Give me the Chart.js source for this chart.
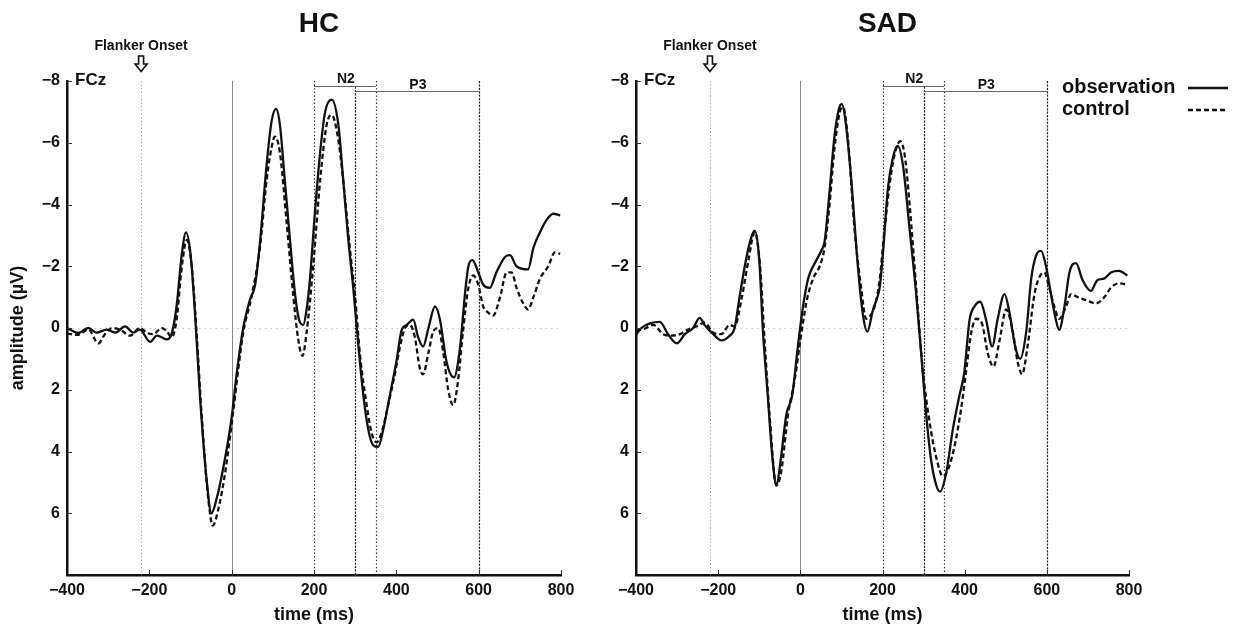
<!DOCTYPE html>
<html>
<head>
<meta charset="utf-8">
<script src="https://cdn.jsdelivr.net/npm/chart.js@4.4.1/dist/chart.umd.min.js"></script>
<style>
  body { margin: 0; background: #fff; }
  #wrap { position: relative; width: 1237px; height: 628px; overflow: hidden; }
  canvas { position: absolute; top: 0; }
</style>
</head>
<body>
<div id="wrap">
  <canvas id="hcChart" width="600" height="628" style="left:0;width:600px;height:628px"></canvas>
  <canvas id="sadChart" width="637" height="628" style="left:600px;width:637px;height:628px"></canvas>
</div>
<script>
// Axis ticks
const timeTicks = [-400, -200, 0, 200, 400, 600, 800];
const ampTicks = [-8, -6, -4, -2, 0, 2, 4, 6, 8];

// Event markers (ms)
const onsetTime = -220;
const n2Window = [200, 350];
const p3Window = [300, 600];

// HC - observation (solid)
const hcObsT = [-400, -373, -348, -328, -304, -283, -259, -239, -223, -198, -182, -170, -158, -146, -134, -121, -111, -100, -89, -77, -61, -49, -36, -20, 0, 12, 28, 44, 57, 69, 85, 97, 108, 117, 129, 142, 154, 164, 174, 182, 190, 202, 215, 227, 243, 259, 271, 283, 295, 308, 320, 332, 344, 356, 368, 384, 400, 413, 425, 441, 453, 465, 478, 494, 506, 522, 540, 555, 567, 575, 585, 599, 611, 627, 643, 664, 676, 692, 720, 733, 749, 765, 781, 798];
const hcObsV = [0.0, 0.16, 0.0, 0.15, 0.05, 0.15, -0.05, 0.15, 0.05, 0.45, 0.25, 0.3, 0.37, 0.2, -0.68, -2.4, -3.1, -2.4, -0.46, 2.2, 4.9, 6.0, 5.5, 4.5, 2.9, 1.5, 0.0, -0.9, -1.4, -2.8, -5.3, -6.7, -7.1, -6.6, -4.8, -2.8, -1.1, -0.25, -0.1, -0.6, -1.56, -3.7, -5.7, -7.0, -7.4, -6.6, -4.8, -2.9, -1.35, 0.6, 2.2, 3.3, 3.8, 3.85, 3.3, 2.2, 1.1, 0.06, -0.1, -0.27, 0.3, 0.6, 0.0, -0.7, -0.27, 1.1, 1.6, 0.6, -1.14, -2.0, -2.2, -1.8, -1.4, -1.3, -1.8, -2.3, -2.36, -2.0, -1.9, -2.6, -3.1, -3.5, -3.7, -3.65];

// HC - control (dashed)
const hcCtlT = [-400, -373, -348, -324, -308, -291, -271, -247, -223, -207, -190, -170, -158, -146, -134, -121, -109, -97, -85, -73, -57, -46, -33, -16, 0, 28, 48, 69, 85, 101, 105, 117, 133, 150, 162, 172, 182, 198, 215, 231, 243, 259, 275, 287, 300, 312, 328, 340, 352, 364, 380, 397, 409, 421, 433, 445, 457, 465, 478, 490, 502, 514, 526, 538, 550, 562, 575, 587, 599, 611, 623, 635, 652, 668, 680, 692, 708, 720, 733, 749, 769, 785, 798];
const hcCtlV = [0.18, 0.22, 0.05, 0.5, 0.2, 0.0, 0.05, 0.25, 0.0, 0.15, 0.2, 0.0, 0.1, 0.3, -0.25, -2.0, -2.85, -2.0, 0.2, 2.8, 5.5, 6.4, 5.9, 4.7, 3.1, 0.16, -1.0, -2.64, -4.8, -6.1, -6.2, -5.7, -3.5, -1.0, 0.4, 0.9, 0.15, -2.0, -4.8, -6.6, -6.9, -6.1, -4.25, -2.6, -1.0, 0.9, 2.5, 3.4, 3.7, 3.4, 2.5, 1.45, 0.6, 0.0, -0.1, 0.3, 1.3, 1.5, 0.8, 0.1, 0.0, 0.8, 2.0, 2.5, 1.7, 0.1, -1.3, -1.7, -1.4, -0.7, -0.5, -0.4, -1.0, -1.8, -1.8, -1.3, -0.8, -0.6, -1.0, -1.6, -2.0, -2.45, -2.4];

// SAD - observation (solid)
const sadObsT = [-400, -387, -366, -342, -322, -301, -281, -261, -245, -233, -212, -192, -172, -160, -148, -131, -119, -111, -100, -91, -79, -68, -58, -49, -34, -20, -6, 6, 19, 35, 51, 59, 71, 83, 94, 101, 110, 124, 140, 152, 163, 177, 185, 193, 201, 213, 225, 237, 250, 266, 282, 294, 306, 318, 331, 340, 355, 371, 387, 399, 412, 424, 438, 452, 467, 480, 497, 509, 523, 535, 550, 562, 574, 586, 598, 610, 622, 630, 643, 655, 671, 687, 707, 723, 739, 756, 776, 796];
const sadObsV = [0.22, 0.0, -0.15, -0.2, 0.2, 0.5, 0.2, 0.0, -0.33, -0.1, 0.2, 0.4, 0.25, 0.0, -1.0, -2.3, -2.95, -3.15, -2.2, 0.1, 2.25, 4.2, 5.1, 4.4, 2.8, 2.2, 0.6, -0.65, -1.6, -2.1, -2.5, -2.8, -4.4, -6.2, -7.1, -7.25, -6.7, -4.8, -2.0, -0.46, 0.12, -0.6, -0.9, -1.3, -2.4, -4.5, -5.5, -5.9, -5.25, -3.2, -1.1, 0.8, 2.75, 4.25, 5.1, 5.3, 4.7, 3.3, 2.2, 1.45, -0.27, -0.7, -0.85, -0.27, 0.6, -0.27, -1.1, -0.5, 0.6, 1.0, 0.1, -1.6, -2.35, -2.5, -2.0, -1.1, -0.27, 0.06, -0.7, -1.8, -2.1, -1.55, -1.2, -1.55, -1.6, -1.8, -1.85, -1.7];

// SAD - control (dashed)
const sadCtlT = [-400, -380, -358, -334, -318, -293, -273, -253, -233, -212, -192, -172, -160, -143, -127, -111, -98, -87, -75, -58, -46, -30, -14, 0, 15, 31, 47, 59, 71, 83, 96, 104, 116, 132, 148, 160, 173, 183, 193, 205, 221, 233, 243, 254, 266, 282, 298, 314, 331, 347, 359, 375, 391, 404, 416, 428, 442, 456, 470, 485, 501, 517, 529, 540, 553, 570, 582, 594, 606, 618, 630, 647, 659, 675, 695, 720, 740, 756, 776, 796];
const sadCtlV = [0.08, 0.03, -0.1, 0.2, 0.25, 0.2, 0.05, -0.05, -0.17, 0.15, 0.2, -0.1, -0.05, -0.95, -2.15, -3.1, -2.0, 0.4, 2.8, 5.1, 4.6, 2.8, 1.7, 0.4, -0.85, -1.6, -2.0, -2.6, -4.0, -5.8, -7.0, -7.15, -6.1, -3.2, -1.3, -0.3, -0.45, -0.8, -1.55, -3.2, -5.0, -5.8, -6.05, -5.6, -4.0, -1.3, 1.35, 3.0, 4.2, 4.8, 4.6, 3.85, 2.65, 1.35, 0.15, -0.3, -0.15, 0.8, 1.25, 0.4, -0.6, 0.1, 1.1, 1.5, 0.6, -1.1, -1.65, -1.8, -1.3, -0.7, -0.3, -0.7, -1.1, -1.0, -0.9, -0.8, -1.0, -1.3, -1.45, -1.4];

const FONT = "'Liberation Sans', Arial, Helvetica, sans-serif";

function toXY(t, v) {
    return t.map((x, i) => ({ x: x, y: v[i] }));
}

function fmt(v) {
    return v < 0 ? '\u2212' + Math.abs(v) : String(v);
}

function line(ctx, x1, y1, x2, y2) {
    ctx.beginPath();
    ctx.moveTo(x1, y1);
    ctx.lineTo(x2, y2);
    ctx.stroke();
}

// Marker lines, labels, arrow and legend
const decor = {
    id: 'decor',
    beforeDatasetsDraw(chart, args, o) {
        const { ctx, chartArea: a, scales: { x, y } } = chart;
        ctx.save();
        ctx.lineWidth = 1;

        // zero amplitude line
        ctx.strokeStyle = '#c4c4c4';
        ctx.setLineDash([1.5, 4]);
        const y0 = Math.round(y.getPixelForValue(0)) + 0.5;
        line(ctx, a.left, y0, a.right, y0);

        // flanker onset
        ctx.strokeStyle = '#9a9a9a';
        ctx.setLineDash([1.2, 2.4]);
        const xo = Math.round(x.getPixelForValue(onsetTime)) + 0.5;
        line(ctx, xo, a.top, xo, a.bottom);

        // time zero
        ctx.setLineDash([]);
        ctx.strokeStyle = '#8a8a8a';
        const xz = Math.round(x.getPixelForValue(0)) + 0.5;
        line(ctx, xz, a.top, xz, a.bottom);

        // component windows
        const n2y = a.top + 5.5, p3y = a.top + 10.5;
        ctx.strokeStyle = '#222';
        ctx.lineWidth = 1.2;
        ctx.setLineDash([1.3, 2.3]);
        n2Window.forEach(t => {
            const px = Math.round(x.getPixelForValue(t)) + 0.5;
            line(ctx, px, a.top, px, a.bottom);
        });
        ctx.setLineDash([2.2, 1.2]);
        p3Window.forEach((t, i) => {
            const px = Math.round(x.getPixelForValue(t)) + 0.5;
            line(ctx, px, i === 0 ? n2y : a.top, px, a.bottom);
        });

        ctx.setLineDash([]);
        ctx.lineWidth = 1;
        ctx.strokeStyle = '#666';
        line(ctx, x.getPixelForValue(n2Window[0]), n2y, x.getPixelForValue(n2Window[1]), n2y);
        line(ctx, x.getPixelForValue(p3Window[0]), p3y, x.getPixelForValue(p3Window[1]), p3y);
        ctx.restore();
    },
    afterDraw(chart, args, o) {
        const { ctx, chartArea: a, scales: { x, y } } = chart;
        ctx.save();

        // inward tick marks
        ctx.strokeStyle = '#333';
        ctx.lineWidth = 1;
        timeTicks.forEach(t => {
            if (t === timeTicks[0]) return;
            const px = Math.round(x.getPixelForValue(t)) + 0.5;
            line(ctx, px, a.bottom, px, a.bottom - 5);
        });
        ampTicks.forEach(v => {
            if (v === ampTicks[ampTicks.length - 1]) return;
            const py = Math.round(y.getPixelForValue(v)) + 0.5;
            line(ctx, a.left, py, a.left + 5, py);
        });

        ctx.fillStyle = '#111';
        ctx.textBaseline = 'middle';

        // panel title
        ctx.textAlign = 'center';
        ctx.font = 'bold 28px ' + FONT;
        ctx.fillText(o.title, (a.left + a.right) / 2 + 5, 24);

        // flanker onset label + arrow
        const xo = x.getPixelForValue(onsetTime);
        ctx.font = 'bold 14px ' + FONT;
        ctx.fillText('Flanker Onset', xo, 46);
        ctx.beginPath();
        ctx.moveTo(xo - 2.5, 56);
        ctx.lineTo(xo + 2.5, 56);
        ctx.lineTo(xo + 2.5, 64);
        ctx.lineTo(xo + 6, 64);
        ctx.lineTo(xo, 71.5);
        ctx.lineTo(xo - 6, 64);
        ctx.lineTo(xo - 2.5, 64);
        ctx.closePath();
        ctx.fillStyle = '#fff';
        ctx.fill();
        ctx.strokeStyle = '#111';
        ctx.lineWidth = 1.6;
        ctx.stroke();
        ctx.fillStyle = '#111';

        // window labels
        ctx.font = 'bold 14px ' + FONT;
        ctx.fillText('N2', x.getPixelForValue((n2Window[0] + n2Window[1]) / 2) + 1, a.top - 1.5);
        ctx.fillText('P3', x.getPixelForValue((p3Window[0] + p3Window[1]) / 2) + 1, a.top + 4);

        // electrode label
        ctx.textAlign = 'left';
        ctx.font = 'bold 17px ' + FONT;
        ctx.fillText('FCz', a.left + 8, a.top - 1);

        // legend
        if (o.legend) {
            ctx.font = 'bold 20px ' + FONT;
            ctx.fillText('observation', a.right - 67, a.top + 6);
            ctx.fillText('control', a.right - 67, a.top + 28);
            ctx.strokeStyle = '#111';
            ctx.lineWidth = 2.5;
            line(ctx, a.right + 59, a.top + 7, a.right + 99, a.top + 7);
            ctx.setLineDash([5, 3]);
            line(ctx, a.right + 59, a.top + 29, a.right + 99, a.top + 29);
        }
        ctx.restore();
    }
};

function makePanel(id, title, obsT, obsV, ctlT, ctlV, yWidth, padRight, showYTitle, showLegend) {
    return new Chart(document.getElementById(id), {
        type: 'line',
        data: {
            datasets: [{
                label: 'observation',
                data: toXY(obsT, obsV),
                borderColor: '#111',
                borderWidth: 2.3,
                pointRadius: 0,
                fill: false,
                cubicInterpolationMode: 'monotone'
            }, {
                label: 'control',
                data: toXY(ctlT, ctlV),
                borderColor: '#111',
                borderWidth: 2.3,
                borderDash: [5, 3],
                pointRadius: 0,
                fill: false,
                cubicInterpolationMode: 'monotone'
            }]
        },
        options: {
            responsive: false,
            animation: false,
            devicePixelRatio: 1,
            layout: { padding: { top: 81, right: padRight, left: 0, bottom: 0 } },
            plugins: {
                legend: { display: false },
                tooltip: { enabled: false },
                decor: { title: title, legend: showLegend }
            },
            scales: {
                x: {
                    type: 'linear',
                    min: timeTicks[0],
                    max: timeTicks[timeTicks.length - 1],
                    afterBuildTicks: s => { s.ticks = timeTicks.map(v => ({ value: v })); },
                    afterFit: s => { s.height = 53; },
                    grid: { display: false, drawTicks: false },
                    border: { display: true, color: '#111', width: 2.5 },
                    ticks: {
                        color: '#111',
                        padding: 6,
                        maxRotation: 0,
                        font: { family: FONT, size: 16, weight: 'bold' },
                        callback: v => fmt(v)
                    },
                    title: {
                        display: true,
                        text: 'time (ms)',
                        color: '#111',
                        padding: { top: 0, bottom: 2 },
                        font: { family: FONT, size: 18, weight: 'bold', lineHeight: 1.2 }
                    }
                },
                y: {
                    type: 'linear',
                    reverse: true,
                    min: ampTicks[0],
                    max: ampTicks[ampTicks.length - 1],
                    afterBuildTicks: s => { s.ticks = ampTicks.map(v => ({ value: v })); },
                    afterFit: s => { s.width = yWidth; },
                    grid: { display: false, drawTicks: false },
                    border: { display: true, color: '#111', width: 2.5 },
                    ticks: {
                        color: '#111',
                        padding: 7,
                        font: { family: FONT, size: 16, weight: 'bold' },
                        callback: v => (v === ampTicks[ampTicks.length - 1] ? '' : fmt(v))
                    },
                    title: {
                        display: showYTitle,
                        text: 'amplitude (\u00B5V)',
                        color: '#111',
                        padding: { top: 7, bottom: 0 },
                        font: { family: FONT, size: 18, weight: 'bold', lineHeight: 1.2 }
                    }
                }
            }
        },
        plugins: [decor]
    });
}

makePanel('hcChart', 'HC', hcObsT, hcObsV, hcCtlT, hcCtlV, 67, 39, true, false);
makePanel('sadChart', 'SAD', sadObsT, sadObsV, sadCtlT, sadCtlV, 36, 108, false, true);
</script>
</body>
</html>
